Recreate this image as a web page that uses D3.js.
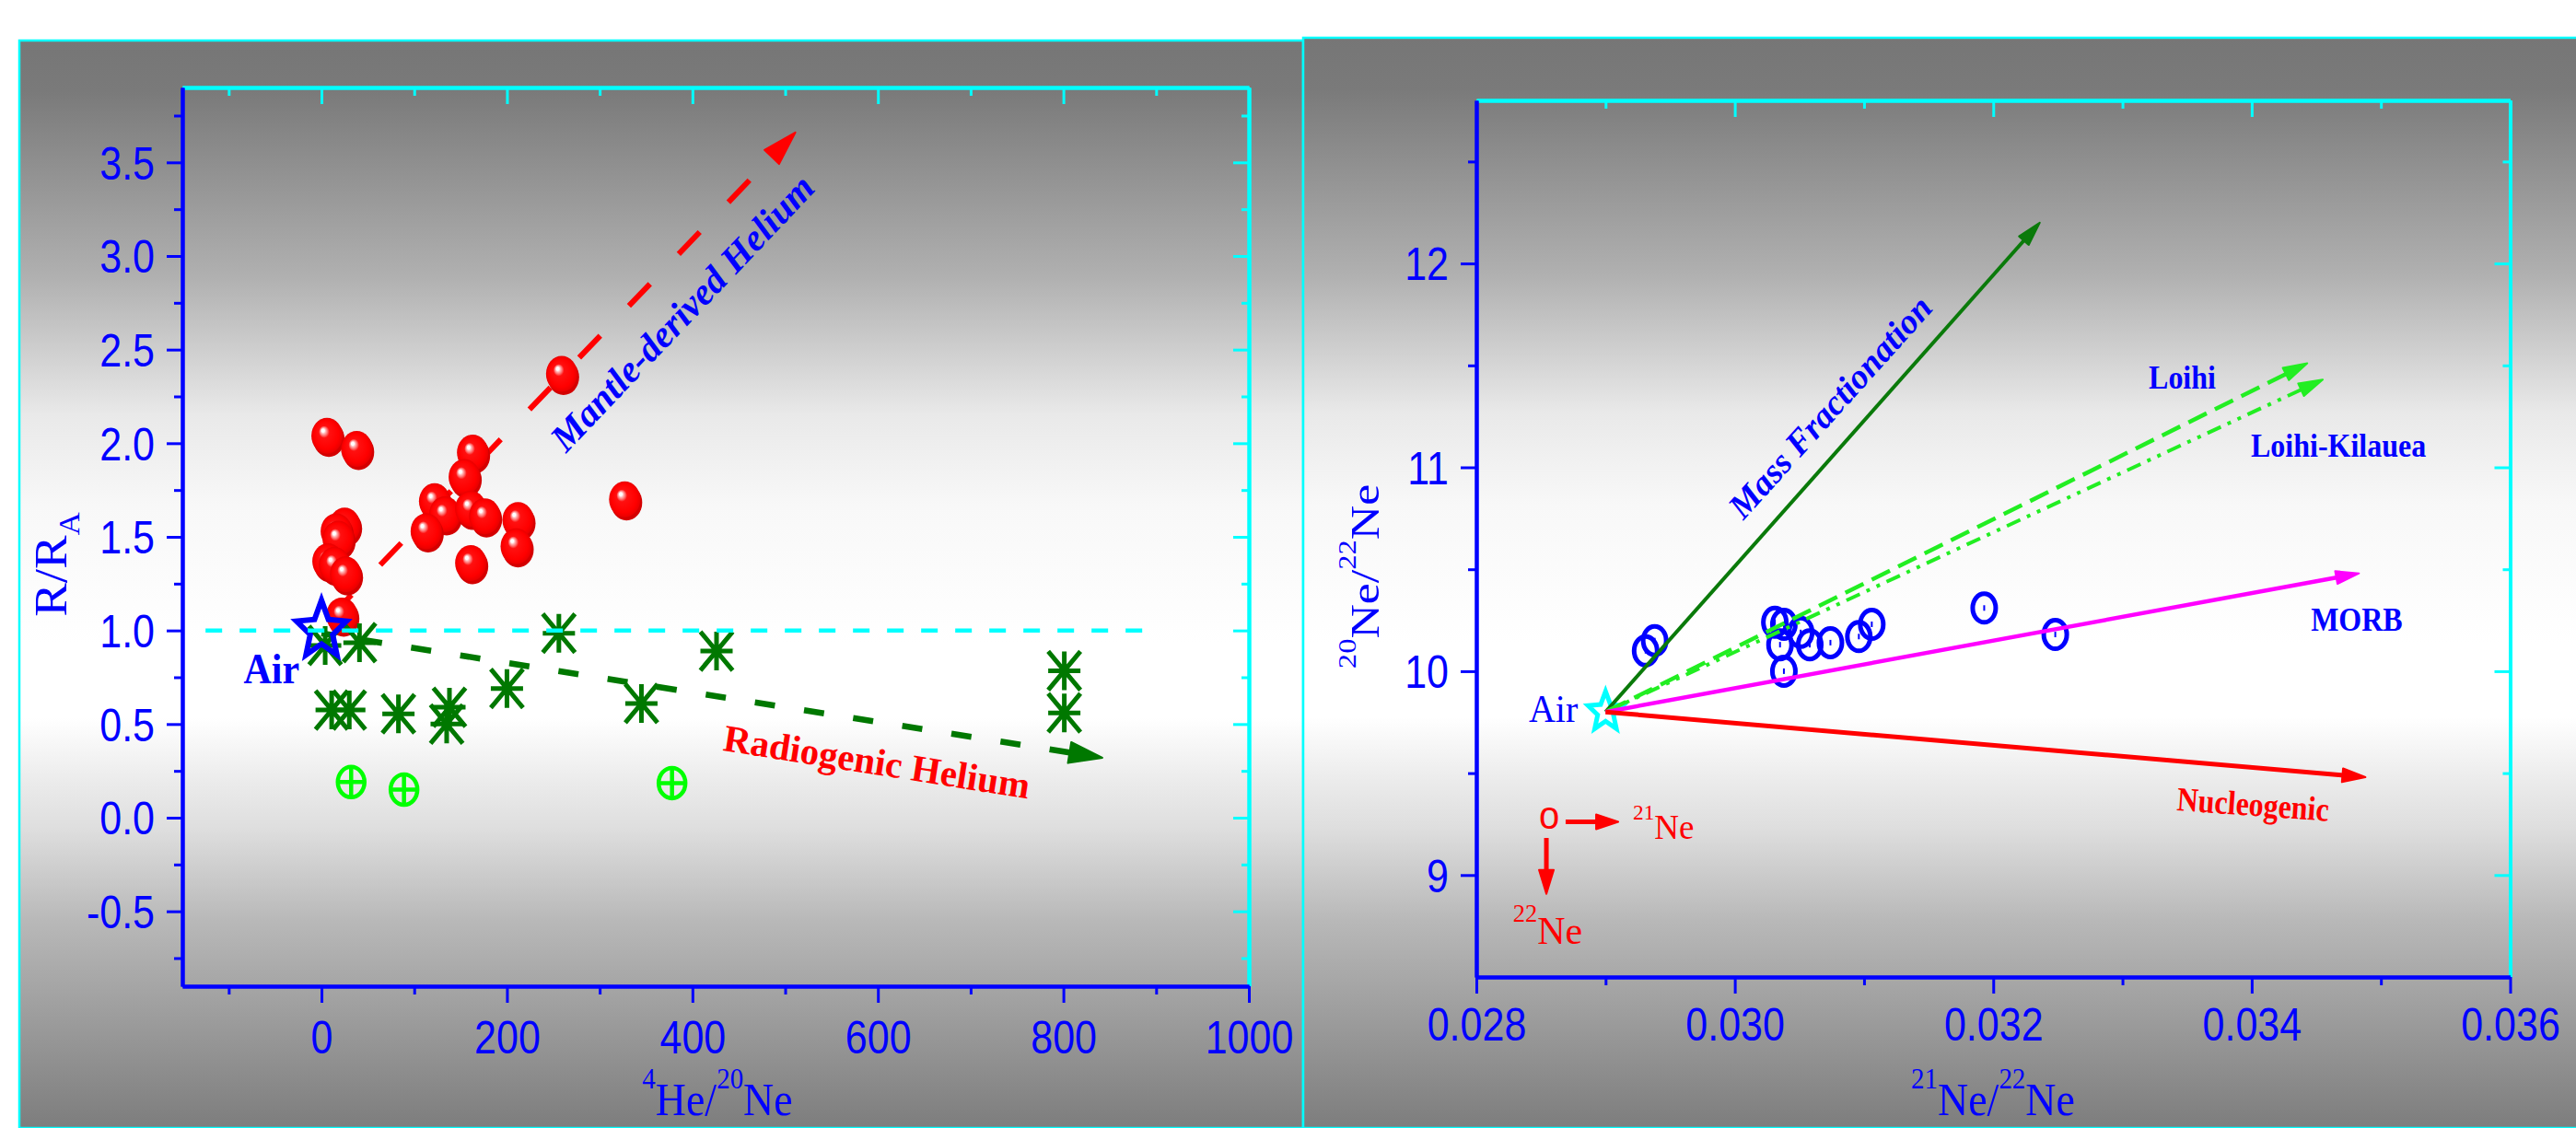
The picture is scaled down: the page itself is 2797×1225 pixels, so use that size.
<!DOCTYPE html>
<html lang="en">
<head>
<meta charset="UTF-8">
<title>Helium and neon isotope plots</title>
<script src="https://cdnjs.cloudflare.com/ajax/libs/d3/7.8.5/d3.min.js"></script>
<style>
    body { margin: 0; background: #fff; }
    svg { display: block; }
</style>
</head>
<body>
<div id="chart"></div>
<script>
// ---------- left panel: R/RA vs 4He/20Ne ----------
const mantleSpheres = [
    [6, 2.04], [38, 1.97], [259, 2.37], [163, 1.95], [154, 1.82], [122, 1.69], [133, 1.62],
    [161, 1.65], [176, 1.61], [113, 1.53], [212, 1.59], [210, 1.45], [161, 1.36], [327, 1.70],
    [25, 1.56], [16, 1.53], [18, 1.49], [7, 1.37], [14, 1.35], [26, 1.30], [22, 1.08]
];
const radiogenicPoints = [
    [4, 0.92], [41, 0.935], [256, 0.985], [426, 0.89], [200, 0.69], [345, 0.61],
    [11, 0.575], [30, 0.575], [83, 0.555], [138, 0.59], [135, 0.50], [801, 0.785], [801, 0.56]
];
const lowRatioPoints = [[32, 0.19], [89, 0.15], [378, 0.185]];
const airHe = [0, 1.0];
const airLineHe = [[-125, 1.0], [890, 1.0]];
const mantleTrend = [[15, 1.1], [511, 3.66]];
const radiogenicTrend = [[0, 0.985], [842, 0.32]];
const heTicksX = [0, 200, 400, 600, 800, 1000];
const heMinorX = [-100, 100, 300, 500, 700, 900];
const heTicksY = [-0.5, 0, 0.5, 1, 1.5, 2, 2.5, 3, 3.5];
const heMinorY = [-0.75, -0.25, 0.25, 0.75, 1.25, 1.75, 2.25, 2.75, 3.25, 3.75];

// ---------- right panel: 20Ne/22Ne vs 21Ne/22Ne ----------
const neonSamples = [
    [0.02931, 10.10], [0.02938, 10.15], [0.03031, 10.24], [0.03038, 10.23], [0.03051, 10.19],
    [0.03035, 10.13], [0.03058, 10.13], [0.03074, 10.14], [0.03038, 10.00], [0.03096, 10.17],
    [0.03106, 10.23], [0.03193, 10.31], [0.03248, 10.18]
];
const airNe = [0.029, 9.8];
const neonTrendNames = ["Mass Fractionation", "Loihi", "Loihi-Kilauea", "MORB", "Nucleogenic"];
const neonTrendEnds = [[0.03236, 12.2], [0.03443, 11.51], [0.03455, 11.43], [0.03483, 10.48], [0.03488, 9.48]];
const neTicksX = [0.028, 0.030, 0.032, 0.034, 0.036];
const neMinorX = [0.029, 0.031, 0.033, 0.035];
const neTicksY = [9, 10, 11, 12];
const neMinorY = [9.5, 10.5, 11.5, 12.5];

const W = 2797, H = 1225;
const BLUE = "#0000ff", CYAN = "#00ffff", RED = "#ff0000";
const SERIF = "'Liberation Serif', 'Times New Roman', serif";
const SANS = "'Liberation Sans', Arial, sans-serif";

const svg = d3.select("#chart").append("svg")
    .attr("width", W)
    .attr("height", H);
const defs = svg.append("defs");

// grey -> white -> grey panel background
const bg = defs.append("linearGradient").attr("id", "bg")
    .attr("x1", 0).attr("y1", 0).attr("x2", 0).attr("y2", 1);
[[0, 118], [0.047, 122], [0.217, 176], [0.344, 233], [0.428, 248], [0.555, 255],
 [0.623, 255], [0.682, 235], [0.725, 222], [0.81, 184], [1, 125]].forEach(([o, v]) => {
    bg.append("stop").attr("offset", o).attr("stop-color", d3.rgb(v, v, v));
});

// shiny red sphere
const ball = defs.append("radialGradient").attr("id", "ball")
    .attr("cx", 0.5).attr("cy", 0.5).attr("r", 0.5).attr("fx", 0.36).attr("fy", 0.34);
[[0, "#ffffff"], [0.09, "#ffffff"], [0.16, "#ffb4b4"], [0.24, "#ff7070"], [0.34, "#ff1010"],
 [0.8, "#ff0000"], [1, "#e80000"]].forEach(([o, c]) => {
    ball.append("stop").attr("offset", o).attr("stop-color", c);
});

// panels
svg.append("rect").attr("x", 21).attr("y", 44).attr("width", 1394).attr("height", 1181)
    .attr("fill", "url(#bg)").attr("stroke", CYAN).attr("stroke-width", 2.5);
svg.append("rect").attr("x", 1415).attr("y", 41).attr("width", 1400).attr("height", 1184)
    .attr("fill", "url(#bg)").attr("stroke", CYAN).attr("stroke-width", 2.5);

// scales
const heX = d3.scaleLinear().domain([-150, 1000]).range([198, 1356]);
const heY = d3.scaleLinear().domain([-0.9, 3.9]).range([1071, 95]);
const neX = d3.scaleLinear().domain([0.028, 0.036]).range([1603, 2725.5]);
const neY = d3.scaleLinear().domain([8.5, 12.8]).range([1061, 109]);

// ---------- helpers ----------
function rich(t, parts, fs) {
    let shift = 0;
    parts.forEach(p => {
        const [txt, kind] = typeof p === "string" ? [p, "n"] : p;
        const target = kind === "sup" ? -0.56 * fs : kind === "sub" ? 0.28 * fs : 0;
        t.append("tspan")
            .attr("dy", target - shift)
            .attr("font-size", kind === "n" ? fs : fs * 0.63)
            .text(txt);
        shift = target;
    });
}

function label(g, px, py, parts, o) {
    const rot = `rotate(${o.rotate || 0})`, sc = `scale(1,${o.sy || 1})`;
    const t = g.append("text")
        .attr("transform", `translate(${px},${py}) ` + (o.stretchFirst ? sc + " " + rot : rot + " " + sc))
        .attr("font-family", o.family || SERIF)
        .attr("font-size", o.size)
        .attr("font-weight", o.weight || "normal")
        .attr("font-style", o.italic ? "italic" : "normal")
        .attr("fill", o.color)
        .attr("text-anchor", o.anchor || "start");
    rich(t, parts, o.size);
}

function arrow(g, p0, p1, st) {
    const dx = p1[0] - p0[0], dy = p1[1] - p0[1], len = Math.hypot(dx, dy);
    const ux = dx / len, uy = dy / len;
    const [hl, hwFull] = st.head;
    const bx = p1[0] - ux * hl, by = p1[1] - uy * hl, hw = hwFull / 2;
    const line = g.append("line")
        .attr("x1", p0[0]).attr("y1", p0[1]).attr("x2", bx).attr("y2", by)
        .attr("stroke", st.color).attr("stroke-width", st.width);
    if (st.dash) {
        const P = d3.sum(st.dash), L = len - hl;
        const off = ((st.dash[0] - (L - (st.gap || 0))) % P + P) % P;
        line.attr("stroke-dasharray", st.dash.join(",")).attr("stroke-dashoffset", off);
    }
    g.append("path")
        .attr("d", `M${p1[0]},${p1[1]}L${bx - uy * hw},${by + ux * hw}L${bx + uy * hw},${by - ux * hw}Z`)
        .attr("fill", st.color).attr("stroke", st.color)
        .attr("stroke-width", 2).attr("stroke-linejoin", "round");
}

function starPath(R, ratio, ky) {
    const pts = d3.range(10).map(i => {
        const r = i % 2 ? R * ratio : R, a = -Math.PI / 2 + i * Math.PI / 5;
        return [r * Math.cos(a), r * Math.sin(a) * ky];
    });
    return "M" + pts.map(p => p.join(",")).join("L") + "Z";
}

function axes(x, y, o) {
    const g = svg.append("g");
    const [yb, yt] = y.range(), [xl, xr] = x.range();
    const style = (sel, color) => {
        sel.attr("font-family", SANS).attr("font-size", 43).attr("fill", color);
        sel.select(".domain").attr("stroke", color).attr("stroke-width", 4);
        sel.selectAll(".tick line").attr("stroke", color).attr("stroke-width", 3);
        sel.selectAll(".tick text").attr("fill", color);
    };
    // cyan top / right
    [[o.xMajor, -18], [o.xMinor, -9]].forEach(([v, s]) => {
        g.append("g").attr("transform", `translate(0,${yt})`)
            .call(d3.axisTop(x).tickValues(v).tickSize(s).tickSizeOuter(0).tickFormat(""))
            .call(sel => style(sel, CYAN));
    });
    [[o.yMajor, -17], [o.yMinor, -8]].forEach(([v, s]) => {
        g.append("g").attr("transform", `translate(${xr},0)`)
            .call(d3.axisRight(y).tickValues(v).tickSize(s).tickSizeOuter(0).tickFormat(""))
            .call(sel => style(sel, CYAN));
    });
    // blue bottom / left
    g.append("g").attr("transform", `translate(0,${yb})`)
        .call(d3.axisBottom(x).tickValues(o.xMinor).tickSize(9).tickSizeOuter(0).tickFormat(""))
        .call(sel => style(sel, BLUE));
    g.append("g").attr("transform", `translate(0,${yb})`)
        .call(d3.axisBottom(x).tickValues(o.xMajor).tickSize(18).tickSizeOuter(0).tickFormat(o.xFmt))
        .call(sel => style(sel, BLUE))
        .selectAll(".tick text")
        .attr("y", null).attr("dy", null)
        .attr("transform", `translate(0,${o.xLabelY}) scale(1,1.15)`);
    g.append("g").attr("transform", `translate(${xl},0)`)
        .call(d3.axisLeft(y).tickValues(o.yMinor).tickSize(9).tickSizeOuter(0).tickFormat(""))
        .call(sel => style(sel, BLUE));
    g.append("g").attr("transform", `translate(${xl},0)`)
        .call(d3.axisLeft(y).tickValues(o.yMajor).tickSize(17).tickSizeOuter(0).tickFormat(o.yFmt))
        .call(sel => style(sel, BLUE))
        .selectAll(".tick text")
        .attr("x", null).attr("dy", "0.36em")
        .attr("transform", "translate(-30,0) scale(1,1.15)");
}

// ---------- left panel ----------
axes(heX, heY, {
    xMajor: heTicksX, xMinor: heMinorX, yMajor: heTicksY, yMinor: heMinorY,
    xFmt: d => String(d), yFmt: d => d.toFixed(1), xLabelY: 73
});

const gL = svg.append("g");
const hp = d => [heX(d[0]), heY(d[1])];

arrow(gL, hp(mantleTrend[0]), hp(mantleTrend[1]),
    {color: RED, width: 6, dash: [33, 45], gap: 35, head: [37, 22]});
arrow(gL, hp(radiogenicTrend[0]), hp(radiogenicTrend[1]),
    {color: "#007800", width: 6.5, dash: [22, 32], gap: 0, head: [36, 23]});

const sphere = gL.selectAll(".sphere").data(mantleSpheres).join("g")
    .attr("transform", d => `translate(${heX(d[0])},${heY(d[1])})`);
sphere.append("ellipse").attr("cx", 2).attr("cy", 3.5).attr("rx", 17).attr("ry", 19.5).attr("fill", "#d40000");
sphere.append("ellipse").attr("rx", 17).attr("ry", 19.5).attr("fill", "url(#ball)");

const ast = "M0,-21V21M-17.5,0H17.5M-17.5,-21L17.5,21M17.5,-21L-17.5,21";
gL.selectAll(".ast").data(radiogenicPoints).join("path")
    .attr("transform", d => `translate(${heX(d[0])},${heY(d[1])})`)
    .attr("d", ast)
    .attr("fill", "none").attr("stroke", "#007800").attr("stroke-width", 5);

const cross = gL.selectAll(".cross").data(lowRatioPoints).join("g")
    .attr("transform", d => `translate(${heX(d[0])},${heY(d[1])})`)
    .attr("fill", "none").attr("stroke", "#00ff00").attr("stroke-width", 4.5);
cross.append("ellipse").attr("rx", 14.5).attr("ry", 16.5);
cross.append("path").attr("d", "M-14.5,0H14.5M0,-16.5V16.5");

gL.append("path")
    .attr("transform", `translate(${heX(airHe[0])},${heY(airHe[1])})`)
    .attr("d", starPath(28.5, 0.45, 1.15))
    .attr("fill", "none").attr("stroke", BLUE).attr("stroke-width", 6).attr("stroke-linejoin", "miter");

gL.append("line")
    .attr("x1", heX(airLineHe[0][0])).attr("y1", heY(airLineHe[0][1]))
    .attr("x2", heX(airLineHe[1][0])).attr("y2", heY(airLineHe[1][1]))
    .attr("stroke", CYAN).attr("stroke-width", 4.5).attr("stroke-dasharray", "18,19");

label(gL, heX(-84), heY(0.72), ["Air"], {size: 42, weight: "bold", color: BLUE, sy: 1.12});
label(gL, heX(399), heY(2.65), ["Mantle-derived Helium"],
    {size: 41, weight: "bold", italic: true, color: BLUE, anchor: "middle", rotate: -46.5});
label(gL, heX(432), heY(0.36), ["Radiogenic Helium"],
    {size: 41, weight: "bold", color: RED, rotate: 9});

// axis titles
label(svg, 779, 1211, [["4", "sup"], "He/", ["20", "sup"], "Ne"],
    {size: 46, color: BLUE, anchor: "middle", sy: 1.12});
label(svg, 72, 613, ["R/R", ["A", "sub"]],
    {size: 50, color: BLUE, anchor: "middle", rotate: -90, sy: 1.1, stretchFirst: true});

// ---------- right panel ----------
axes(neX, neY, {
    xMajor: neTicksX, xMinor: neMinorX, yMajor: neTicksY, yMinor: neMinorY,
    xFmt: d => d.toFixed(3), yFmt: d => d.toFixed(0), xLabelY: 69
});

const gR = svg.append("g");
const np = d => [neX(d[0]), neY(d[1])];

const ring = gR.selectAll(".ring").data(neonSamples).join("g")
    .attr("transform", d => `translate(${neX(d[0])},${neY(d[1])})`)
    .attr("stroke", BLUE).attr("fill", "none");
ring.append("ellipse").attr("rx", 12.5).attr("ry", 15.5).attr("stroke-width", 5);
ring.append("line").attr("y1", -3).attr("y2", 3).attr("stroke-width", 2);

gR.append("path")
    .attr("transform", `translate(${neX(airNe[0])},${neY(airNe[1])})`)
    .attr("d", starPath(20, 0.45, 1.12))
    .attr("fill", "none").attr("stroke", CYAN).attr("stroke-width", 5);

const neonTrendStyle = {
    "Mass Fractionation": {color: "#0a7a0a", width: 4, head: [26, 14]},
    "Loihi": {color: "#22ee22", width: 4.5, dash: [22, 10], head: [26, 15]},
    "Loihi-Kilauea": {color: "#22ee22", width: 4, dash: [16, 8, 4, 8, 4, 8], head: [26, 15]},
    "MORB": {color: "#ff00ff", width: 4.5, head: [25, 14]},
    "Nucleogenic": {color: RED, width: 5, head: [25, 15]}
};
neonTrendNames.forEach((name, i) => {
    arrow(gR, np(airNe), np(neonTrendEnds[i]), neonTrendStyle[name]);
});

const neonLabels = {
    "Mass Fractionation": {at: [0.030805, 11.257], size: 38, italic: true, rotate: -48, anchor: "middle"},
    "Loihi": {at: [0.033203, 11.386], size: 32, sy: 1.15},
    "Loihi-Kilauea": {at: [0.033994, 11.052], size: 32, sy: 1.15},
    "MORB": {at: [0.034458, 10.198], size: 32, sy: 1.15},
    "Nucleogenic": {at: [0.033417, 9.317], size: 32, sy: 1.15, rotate: 4, color: RED}
};
neonTrendNames.forEach(name => {
    const o = neonLabels[name];
    label(gR, neX(o.at[0]), neY(o.at[1]), [name],
        Object.assign({weight: "bold", color: BLUE}, o));
});
label(gR, neX(0.028406), neY(9.75), ["Air"], {size: 40, color: BLUE, sy: 1.05});

// isotope direction key
label(gR, neX(0.028485), neY(9.227), ["o"], {size: 40, color: RED, family: SANS, sy: 1.05});
arrow(gR, [neX(0.028691), neY(9.261)], [neX(0.029098), neY(9.261)], {color: RED, width: 5, head: [24, 16]});
arrow(gR, [neX(0.028542), neY(9.182)], [neX(0.028542), neY(8.908)], {color: RED, width: 5, head: [26, 16]});
label(gR, neX(0.029212), neY(9.179), [["21", "sup"], "Ne"], {size: 37, color: RED});
label(gR, neX(0.028283), neY(8.663), [["22", "sup"], "Ne"], {size: 42, color: RED});

// axis titles
label(svg, 2164, 1211, [["21", "sup"], "Ne/", ["22", "sup"], "Ne"],
    {size: 46, color: BLUE, anchor: "middle", sy: 1.12});
label(svg, 1497, 626, [["20", "sup"], "Ne/", ["22", "sup"], "Ne"],
    {size: 45, color: BLUE, anchor: "middle", rotate: -90, sy: 1.15, stretchFirst: true});
</script>
</body>
</html>
